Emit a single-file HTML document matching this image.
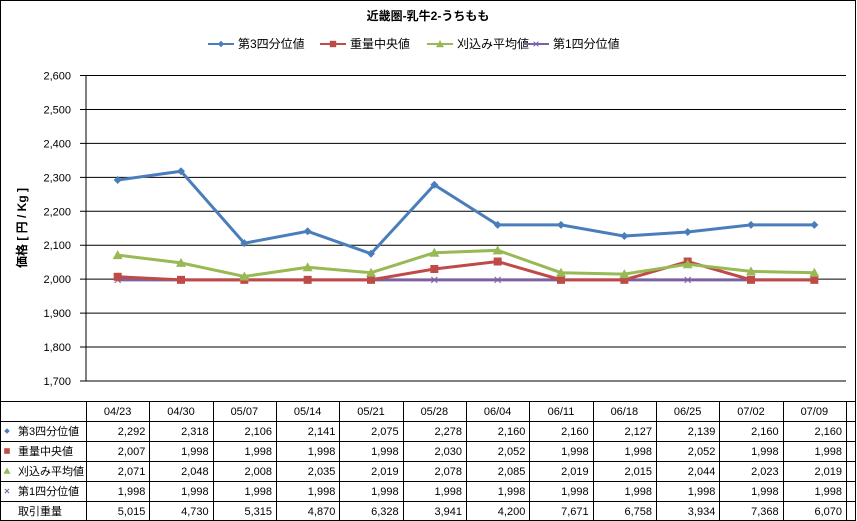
<!DOCTYPE html>
<html><head><meta charset="utf-8">
<style>
body{margin:0;background:#fff;}
svg{display:block;font-family:"Liberation Sans","Noto Sans CJK JP",sans-serif;}
</style></head>
<body>
<svg id="chart" width="857" height="521" viewBox="0 0 857 521">
<rect x="0.5" y="0.5" width="855" height="520" fill="#fff" stroke="#000"/>
<text x="428" y="20" text-anchor="middle" font-size="12" font-weight="bold">近畿圏-乳牛2-うちもも</text>
<g id="legend"></g>
<g id="grid"></g>
<g id="yaxis"></g>
<text transform="translate(26,228) rotate(-90)" text-anchor="middle" font-size="12" font-weight="bold">価格 [ 円 / Kg ]</text>
<g id="series"></g>
<g id="table"></g>
</svg>
<script>
const categories=["04/23","04/30","05/07","05/14","05/21","05/28","06/04","06/11","06/18","06/25","07/02","07/09"];
const q3=[2292,2318,2106,2141,2075,2278,2160,2160,2127,2139,2160,2160];
const median=[2007,1998,1998,1998,1998,2030,2052,1998,1998,2052,1998,1998];
const avg=[2071,2048,2008,2035,2019,2078,2085,2019,2015,2044,2023,2019];
const q1=[1998,1998,1998,1998,1998,1998,1998,1998,1998,1998,1998,1998];
const volume=[5015,4730,5315,4870,6328,3941,4200,7671,6758,3934,7368,6070];
const yTicks=[1700,1800,1900,2000,2100,2200,2300,2400,2500,2600];
const seriesNames=["第3四分位値","重量中央値","刈込み平均値","第1四分位値"];

const NS="http://www.w3.org/2000/svg";
const L=86,R=846,T=75.5,B=381,colW=(R-L)/categories.length;
const x=i=>L+colW*(i+0.5);
const y=v=>B-(v-1700)/(2600-1700)*(B-T);
function mk(tag,attrs,parent,text){const e=document.createElementNS(NS,tag);for(const k in attrs)e.setAttribute(k,attrs[k]);if(text!==undefined)e.textContent=text;parent.appendChild(e);return e;}
const fmt=v=>v.toLocaleString("en-US");

const grid=document.getElementById("grid"),yax=document.getElementById("yaxis");
yTicks.forEach(t=>{
  const l=mk("line",{x1:L-6,x2:R,y1:y(t),y2:y(t),stroke:"#000","stroke-width":1},grid);
  
  
  const tx=mk("text",{x:L-15,y:y(t)+4,"text-anchor":"end","font-size":11},yax,fmt(t));
  
  
});
mk("line",{x1:L,x2:L,y1:T,y2:B,stroke:"#000"},yax);

const colors=["#4a7ebb","#be4b48","#98b954","#7d60a0"];
const data=[q3,median,avg,q1];
function marker(k,cx,cy,g,s){
  s=s||1;
  if(k===0)return mk("path",{d:`M${cx} ${cy-4*s}L${cx+4*s} ${cy}L${cx} ${cy+4*s}L${cx-4*s} ${cy}Z`,fill:colors[0]},g);
  if(k===1)return mk("rect",{x:cx-4*s,y:cy-4*s,width:8*s,height:8*s,fill:colors[1]},g);
  if(k===2)return mk("path",{d:`M${cx} ${cy-5*s}L${cx+5*s} ${cy+4*s}L${cx-5*s} ${cy+4*s}Z`,fill:colors[2]},g);
  return mk("path",{d:`M${cx-3*s} ${cy-3*s}L${cx+3*s} ${cy+3*s}M${cx+3*s} ${cy-3*s}L${cx-3*s} ${cy+3*s}`,stroke:colors[3],"stroke-width":1},g);
}
const sg=document.getElementById("series");
[3,1,2,0].forEach(k=>{
  const g=mk("g",{},sg);
  
  
  const pts=data[k].map((v,i)=>x(i)+","+y(v)).join(" ");
  mk("polyline",{points:pts,fill:"none",stroke:colors[k],"stroke-width":3},g);
  data[k].forEach((v,i)=>{const m=marker(k,x(i),y(v),g);
    
    });
});

// legend
const lg=document.getElementById("legend");
const lx=[208,320,427,523];
seriesNames.forEach((n,k)=>{
  const g=mk("g",{},lg);
  
  
  mk("line",{x1:lx[k],x2:lx[k]+26,y1:44,y2:44,stroke:colors[k],"stroke-width":2},g);
  marker(k,lx[k]+13,44,g,0.8);
  mk("text",{x:lx[k]+30,y:48,"font-size":12},g,n);
});

// table
const tb=document.getElementById("table");
const rowsY=[401,421,441,461,481,501,521];
rowsY.slice(0,6).forEach(ry=>mk("line",{x1:0,x2:856,y1:ry+0.5,y2:ry+0.5,stroke:"#000"},tb));
for(let i=0;i<=categories.length;i++){const xx=Math.round(L+colW*i)+0.5;mk("line",{x1:xx,x2:xx,y1:401,y2:521,stroke:"#000"},tb);}
categories.forEach((c,i)=>{const t=mk("text",{x:x(i),y:415,"text-anchor":"middle","font-size":11},tb,c);
  
  });
const rowData=[q3,median,avg,q1,volume];
const rowNames=seriesNames.concat(["取引重量"]);
rowData.forEach((arr,r)=>{
  const cy=rowsY[r+1]+14;
  if(r<4)marker(r,7,cy-4,tb,0.7);
  const lab=mk("text",{x:18,y:cy,"font-size":11},tb,rowNames[r]);
  
  
  arr.forEach((v,i)=>{const t=mk("text",{x:L+colW*(i+1)-4,y:cy,"text-anchor":"end","font-size":11},tb,fmt(v));
    
    });
});
</script>
</body></html>
